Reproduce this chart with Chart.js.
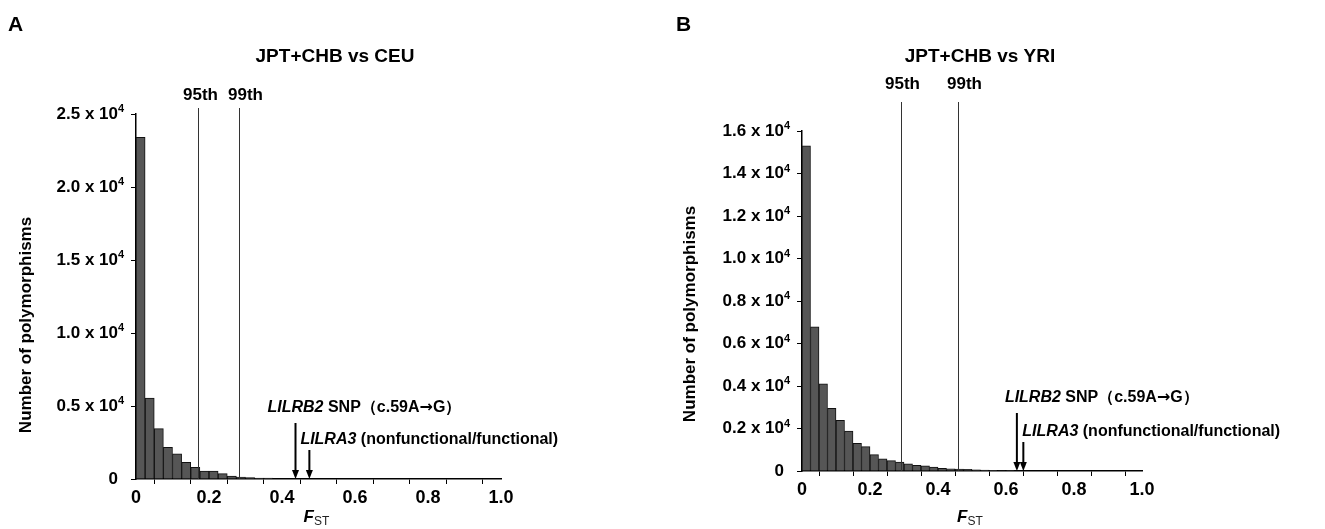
<!DOCTYPE html>
<html>
<head>
<meta charset="utf-8">
<script src="https://cdn.jsdelivr.net/npm/chart.js@4/dist/chart.umd.min.js"></script>
<style>
  body { margin: 0; background: #fff; }
  #wrap { position: relative; width: 1325px; height: 529px; }
  canvas { position: absolute; top: 0; }
</style>
</head>
<body>
<div id="wrap">
  <canvas id="chartA" width="650" height="529" style="left:0"></canvas>
  <canvas id="chartB" width="675" height="529" style="left:650px"></canvas>
</div>
<script>
// histogram bins of Fst, width 0.025
var binWidth = 0.025;
var ceuCounts = [23400, 5540, 3450, 2170, 1730, 1140, 800, 550, 550, 370, 200, 140, 90, 70, 60];
var yriCounts = [15300, 6790, 4100, 2950, 2380, 1880, 1300, 1150, 770, 570, 490, 420, 340, 270, 240,
                 180, 130, 100, 90, 80, 60, 40, 30, 25, 20];

var ceuPercentiles = [0.169, 0.282];
var yriPercentiles = [0.291, 0.458];
var percentileLabels = ['95th', '99th'];

var ceuMarkers = [0.437, 0.475];
var yriMarkers = [0.632, 0.651];

var xTickLabels = ['0', '', '0.2', '', '0.4', '', '0.6', '', '0.8', '', '1.0'];
// mantissas, shown as "m x 10^4"
var ceuYTicks = ['0', '0.5', '1.0', '1.5', '2.0', '2.5'];
var yriYTicks = ['0', '0.2', '0.4', '0.6', '0.8', '1.0', '1.2', '1.4', '1.6'];

var FONT = "'Liberation Sans', Arial, sans-serif";

function toBins(counts) {
    return counts.map(function (c, i) { return { x: (i + 0.5) * binWidth, y: c }; });
}

function drawSegments(ctx, segs, x, y, size) {
    ctx.textBaseline = 'middle';
    ctx.textAlign = 'left';
    segs.forEach(function (s) {
        ctx.font = (s.italic ? 'italic ' : '') + 'bold ' + size + 'px ' + (s.family || FONT);
        ctx.fillText(s.t, x, y);
        x += ctx.measureText(s.t).width;
    });
}

function drawArrow(ctx, x, yTop, yTip) {
    ctx.strokeStyle = '#000';
    ctx.fillStyle = '#000';
    ctx.lineWidth = 2;
    ctx.beginPath();
    ctx.moveTo(x, yTop);
    ctx.lineTo(x, yTip - 7);
    ctx.stroke();
    ctx.beginPath();
    ctx.moveTo(x - 3.5, yTip - 9);
    ctx.lineTo(x + 3.5, yTip - 9);
    ctx.lineTo(x, yTip);
    ctx.closePath();
    ctx.fill();
}

function makePanel(id, opts) {
    var overlay = {
        id: 'overlay',
        afterDraw: function (chart) {
            var ctx = chart.ctx;
            var xs = chart.scales.x;
            var ys = chart.scales.y;
            var area = chart.chartArea;
            ctx.save();

            // exponent of the y tick labels
            ctx.fillStyle = '#000';
            ctx.font = 'bold 11px ' + FONT;
            ctx.textAlign = 'left';
            ctx.textBaseline = 'middle';
            ys.ticks.forEach(function (t) {
                if (t.value === 0) return;
                ctx.fillText('4', area.left - 18, ys.getPixelForValue(t.value) - 5);
            });

            // percentile lines
            ctx.strokeStyle = '#333';
            ctx.lineWidth = 1;
            opts.percentiles.forEach(function (p, i) {
                var px = Math.round(xs.getPixelForValue(p)) + 0.5;
                ctx.beginPath();
                ctx.moveTo(px, opts.lineTop);
                ctx.lineTo(px, area.bottom);
                ctx.stroke();
                ctx.fillStyle = '#000';
                ctx.font = 'bold 17px ' + FONT;
                ctx.textAlign = 'center';
                ctx.textBaseline = 'middle';
                ctx.fillText(percentileLabels[i], px + opts.pctDx[i], opts.pctLabelY);
            });

            // gene markers
            var b2 = xs.getPixelForValue(opts.markers[0]);
            var a3 = xs.getPixelForValue(opts.markers[1]);
            drawArrow(ctx, b2, area.bottom - opts.b2Len, area.bottom);
            drawArrow(ctx, a3, area.bottom - 29, area.bottom);
            ctx.fillStyle = '#000';
            drawSegments(ctx, [
                { t: 'LILRB2', italic: true },
                { t: ' SNP（c.59A' },
                { t: '→', family: "'DejaVu Sans', sans-serif" },
                { t: 'G）' }
            ], b2 + opts.b2Dx, area.bottom - opts.b2Dy, 16);
            drawSegments(ctx, [{ t: 'LILRA3', italic: true }, { t: ' (nonfunctional/functional)' }],
                a3 + opts.a3Dx, area.bottom - 39, 16);

            // titles
            ctx.textAlign = 'center';
            ctx.textBaseline = 'middle';
            ctx.font = 'bold 19px ' + FONT;
            ctx.fillText(opts.title, opts.titleX, 57);
            ctx.textAlign = 'left';
            ctx.font = 'bold 21px ' + FONT;
            ctx.fillText(opts.letter, opts.letterX, 25);

            // y axis title
            ctx.save();
            ctx.translate(opts.yTitleX, opts.yTitleY);
            ctx.rotate(-Math.PI / 2);
            ctx.textAlign = 'center';
            ctx.font = 'bold 17px ' + FONT;
            ctx.fillText('Number of polymorphisms', 0, 0);
            ctx.restore();

            // x axis title F_ST
            var fx = (area.left + area.right) / 2 - 15;
            ctx.textAlign = 'left';
            ctx.textBaseline = 'alphabetic';
            ctx.font = 'italic bold 17px ' + FONT;
            ctx.fillText('F', fx, 522);
            var fw = ctx.measureText('F').width;
            ctx.font = '12px ' + FONT;
            ctx.fillStyle = '#222';
            ctx.fillText('ST', fx + fw, 525);

            ctx.restore();
        }
    };

    return new Chart(document.getElementById(id), {
        type: 'bar',
        data: {
            datasets: [{
                data: toBins(opts.counts),
                backgroundColor: '#565656',
                borderColor: '#111',
                borderWidth: 1,
                barPercentage: 1,
                categoryPercentage: 1
            }]
        },
        options: {
            responsive: false,
            animation: false,
            layout: { padding: opts.padding },
            plugins: { legend: { display: false }, tooltip: { enabled: false } },
            scales: {
                x: {
                    type: 'linear',
                    min: 0,
                    max: 1,
                    offset: false,
                    afterFit: function (s) { s.height = 50; },
                    grid: { drawOnChartArea: false, tickLength: 5, color: '#000' },
                    border: { color: '#000', width: 1.5 },
                    ticks: {
                        stepSize: 0.1,
                        autoSkip: false,
                        maxRotation: 0,
                        padding: 3,
                        color: '#000',
                        font: { family: FONT, size: 18, weight: 'bold' },
                        callback: function (v, i) { return xTickLabels[i]; }
                    }
                },
                y: {
                    min: 0,
                    max: opts.yMax,
                    afterFit: function (s) { s.width = 100; },
                    grid: { drawOnChartArea: false, tickLength: 5, color: '#000' },
                    border: { color: '#000', width: 1.5 },
                    ticks: {
                        stepSize: opts.yStep,
                        padding: 13,
                        color: '#000',
                        font: { family: FONT, size: 17, weight: 'bold' },
                        callback: function (v, i) {
                            return i === 0 ? opts.yTicks[i] : opts.yTicks[i] + ' x 10';
                        }
                    }
                }
            }
        },
        plugins: [overlay]
    });
}

makePanel('chartA', {
    counts: ceuCounts, yMax: 25000, yStep: 5000, yTicks: ceuYTicks,
    percentiles: ceuPercentiles, markers: ceuMarkers,
    padding: { left: 36, right: 149, top: 114, bottom: 0 },
    lineTop: 108, pctLabelY: 95, pctDx: [2, 6],
    b2Len: 56, b2Dx: -28, b2Dy: 71, a3Dx: -9,
    title: 'JPT+CHB vs CEU', titleX: 335, letter: 'A', letterX: 8,
    yTitleX: 26, yTitleY: 325
});

makePanel('chartB', {
    counts: yriCounts, yMax: 16000, yStep: 2000, yTicks: yriYTicks,
    percentiles: yriPercentiles, markers: yriMarkers,
    padding: { left: 52, right: 183, top: 131, bottom: 8 },
    lineTop: 102, pctLabelY: 84, pctDx: [1, 6],
    b2Len: 58, b2Dx: -12, b2Dy: 73, a3Dx: -1,
    title: 'JPT+CHB vs YRI', titleX: 330, letter: 'B', letterX: 26,
    yTitleX: 40, yTitleY: 314
});
</script>
</body>
</html>
